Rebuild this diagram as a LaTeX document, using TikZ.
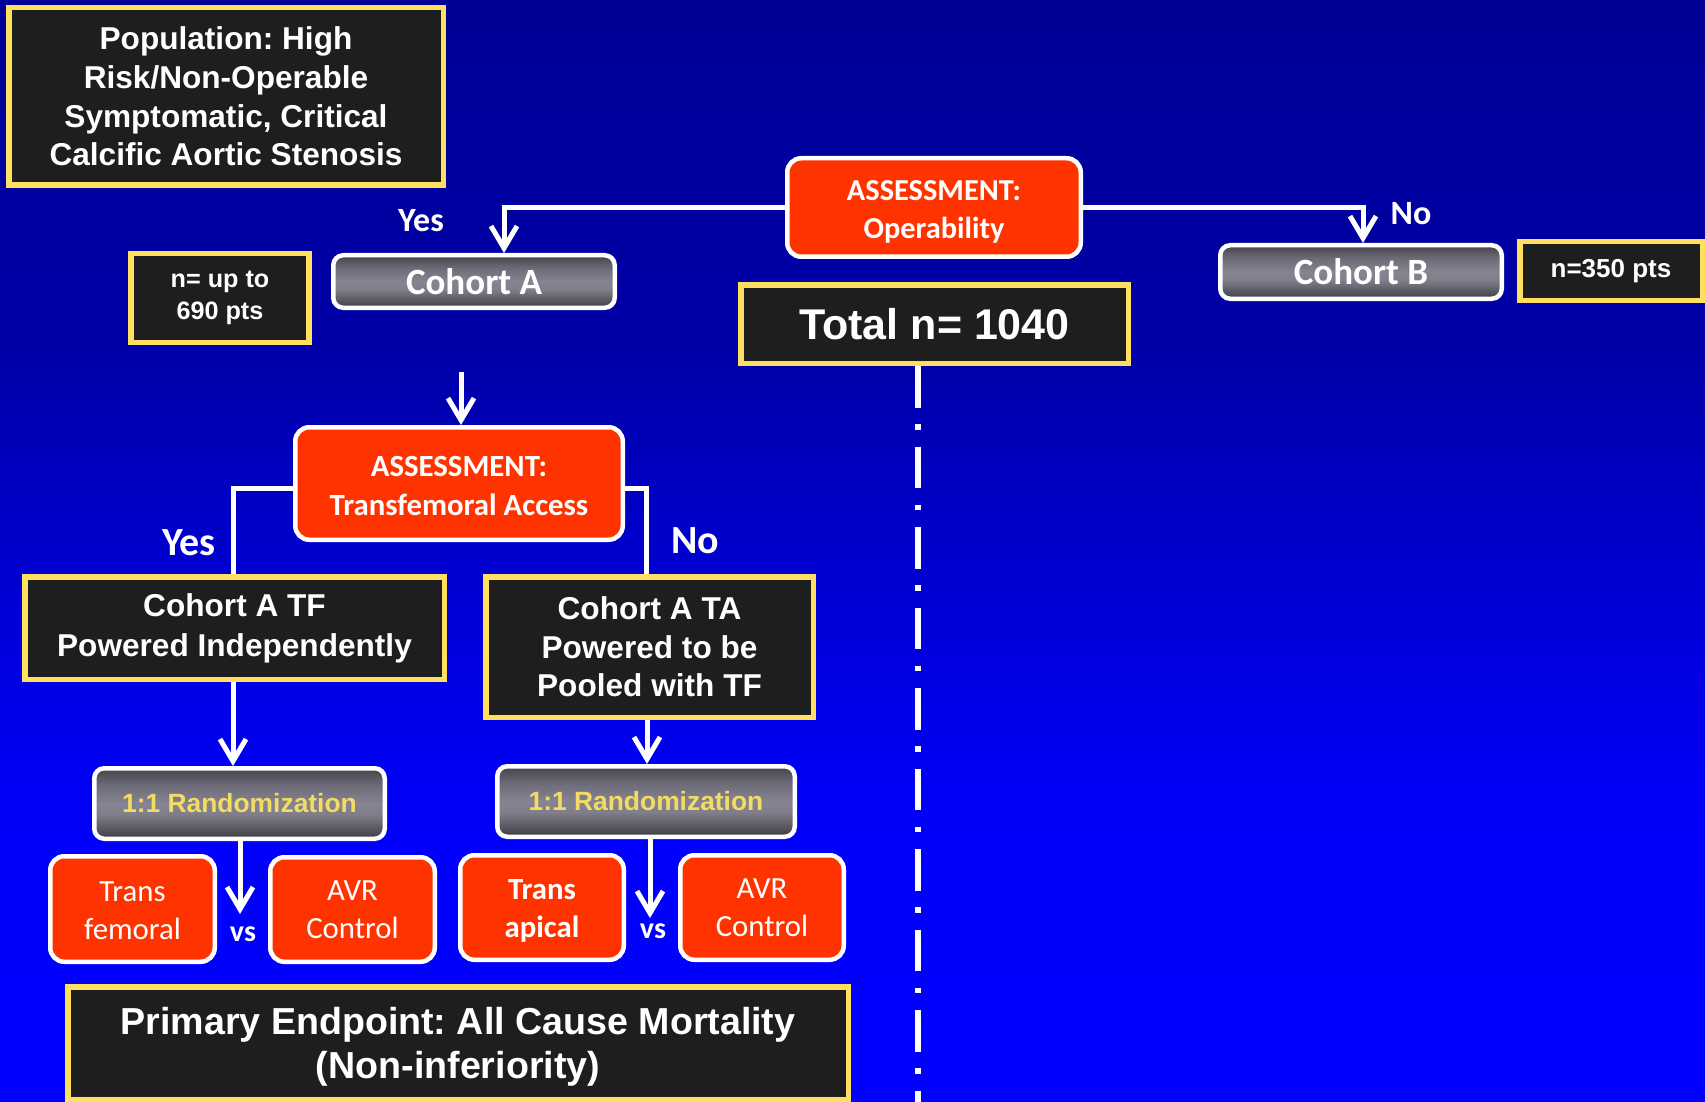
\documentclass[tikz,border=0pt]{standalone}
\usepackage{fontspec}
\setmainfont{Liberation Sans}
\newfontfamily\calibri{Carlito}
\usetikzlibrary{arrows.meta,calc}
\definecolor{bgzero}{RGB}{0,0,255}
\definecolor{bgone}{RGB}{0,0,252}
\definecolor{bgtwo}{RGB}{0,0,240}
\definecolor{bgthree}{RGB}{0,0,205}
\definecolor{bgfour}{RGB}{0,0,168}
\definecolor{bgfive}{RGB}{0,0,150}
\definecolor{gA}{HTML}{3A3A40}
\definecolor{gB}{HTML}{505058}
\definecolor{gC}{HTML}{807E8B}
\definecolor{gD}{HTML}{868491}
\definecolor{gE}{HTML}{6E6C78}
\definecolor{gF}{HTML}{44444C}
\definecolor{yel}{RGB}{255,223,95}
\definecolor{blk}{HTML}{1E1E1E}
\definecolor{redbox}{HTML}{FF3300}
\definecolor{randtxt}{RGB}{242,220,100}
\pgfdeclareverticalshading{bgshade}{100bp}{color(0bp)=(bgzero); color(25bp)=(bgzero); color(36.45bp)=(bgone); color(41bp)=(bgtwo); color(50bp)=(bgthree); color(59bp)=(bgfour); color(75bp)=(bgfive); color(100bp)=(bgfive)}
\pgfdeclareverticalshading{grayshade}{100bp}{color(0bp)=(gA); color(25bp)=(gA); color(30bp)=(gB); color(42.5bp)=(gC); color(50bp)=(gD); color(62.5bp)=(gE); color(75bp)=(gF); color(100bp)=(gF)}
\newcommand{\myfs}[2]{\fontsize{#1}{#2}\selectfont}
\frenchspacing
\begin{document}
\begin{tikzpicture}[x=0.5pt,y=-0.5pt,
  ybox/.style={draw=yel, fill=blk, line width=2.75pt, text=white, align=center, inner sep=0pt},
  rbox/.style={draw=white, fill=redbox, line width=2.25pt, rounded corners=7pt, text=white, align=center, inner sep=0pt},
  gbox/.style={draw=white, shading=grayshade, line width=2.25pt, rounded corners=5pt, text=white, align=center, inner sep=0pt},
  conn/.style={draw=white, line width=2.5pt},
  arr/.style={-{Straight Barb[length=11pt,width=13pt]}},
  lbl/.style={text=white, inner sep=0pt}
]
\useasboundingbox (0,0) rectangle (1705,1102);
\shade[shading=bgshade] (0,0) rectangle (1705,1102);

% yellow boxes
\node[ybox, minimum width=217.25pt, minimum height=88.75pt, font={\myfs{15.8}{19.3}\bfseries}] (pop) at (226,96.5) {Population: High\\Risk/Non-Operable\\Symptomatic, Critical\\Calcific Aortic Stenosis};
\node[ybox, minimum width=89pt, minimum height=44.25pt, font={\myfs{12.6}{16}\bfseries}] (nA) at (220,298) {n= up to\\690 pts};
\node[ybox, minimum width=193.75pt, minimum height=39.25pt, font={\myfs{21.5}{24}\bfseries}] (total) at (934.5,324) {Total n= 1040};
\node[ybox, minimum width=91.25pt, minimum height=29.25pt, font={\myfs{13}{16}\bfseries}] (nB) at (1611,271) {n=350 pts};
\node[ybox, minimum width=209.75pt, minimum height=51.25pt, font={\myfs{15.8}{20}\bfseries}] (TF) at (234.5,628) {Cohort A TF\\Powered Independently};
\node[ybox, minimum width=163.75pt, minimum height=70.25pt, font={\myfs{15.8}{19.3}\bfseries}] (TA) at (649.5,647) {Cohort A TA\\Powered to be\\Pooled with TF};
\node[ybox, minimum width=390.25pt, minimum height=56.25pt, font={\myfs{18.8}{22}\bfseries}] (prim) at (458,1043) {\rule{0pt}{17pt}Primary Endpoint: All Cause Mortality\\(Non-inferiority)};

% red rounded boxes
\node[rbox, minimum width=146.75pt, minimum height=49.25pt, font={\calibri\myfs{15.2}{19}\bfseries}] (op) at (934,207.5) {\rule{0pt}{14pt}ASSESSMENT:\\Operability};
\node[rbox, minimum width=163.75pt, minimum height=56.25pt, font={\calibri\myfs{15.4}{19.5}\bfseries}] (tfa) at (459,483.5) {\rule{0pt}{13pt}ASSESSMENT:\\Transfemoral Access};
\node[rbox, minimum width=82.25pt, minimum height=52.75pt, font={\calibri\myfs{15.4}{19}}] (trf) at (132.5,909) {\rule{0pt}{12pt}Trans\\femoral};
\node[rbox, minimum width=82.25pt, minimum height=52.25pt, font={\calibri\myfs{15.4}{19}}] (avrA) at (352.5,909.5) {AVR\\Control};
\node[rbox, minimum width=81.75pt, minimum height=52.25pt, font={\calibri\myfs{15.4}{19}\bfseries}] (tap) at (542,907.5) {\rule{0pt}{13pt}Trans\\apical};
\node[rbox, minimum width=81.75pt, minimum height=52.25pt, font={\calibri\myfs{15.4}{19}}] (avrB) at (762,907.5) {AVR\\Control};

% gray boxes
\node[gbox, minimum width=140.75pt, minimum height=26.25pt, font={\calibri\myfs{18.5}{20}\bfseries}] (cA) at (474,281.5) {Cohort A};
\node[gbox, minimum width=140.75pt, minimum height=26.75pt, font={\calibri\myfs{18.5}{20}\bfseries}] (cB) at (1361,272) {Cohort B};
\node[gbox, minimum width=145.25pt, minimum height=35.25pt, text=randtxt, font={\myfs{13.2}{16}\bfseries}] (rA) at (239.5,803.5) {1:1 Randomization};
\node[gbox, minimum width=148.75pt, minimum height=35.25pt, text=randtxt, font={\myfs{13.2}{16}\bfseries}] (rB) at (646,801.5) {1:1 Randomization};

% labels
\node[lbl, font={\calibri\myfs{17}{20}\bfseries}] (yesA) at (421,221) {Yes};
\node[lbl, font={\calibri\myfs{17}{20}\bfseries}] (noA) at (1411,214) {No};
\node[lbl, font={\calibri\myfs{20}{22}\bfseries}] (yesB) at (189,543) {Yes};
\node[lbl, font={\calibri\myfs{20}{22}\bfseries}] (noB) at (695,541) {No};
\node[lbl, font={\calibri\myfs{15}{18}\bfseries}] (vsA) at (243,934) {vs};
\node[lbl, font={\calibri\myfs{15}{18}\bfseries}] (vsB) at (653,931) {vs};

% free ends
\coordinate (tfaIn) at (461,372);
\coordinate (vA) at (240,914);
\coordinate (vB) at (650,918);
\coordinate (dashEnd) at (918,1102);

% connectors
\draw[conn,arr] (op.west) -| ([xshift=15pt]cA.north);
\draw[conn,arr] (op.east) -| ([xshift=1pt]cB.north);
\draw[conn,arr] (tfaIn) -- (tfaIn |- tfa.north);
\draw[conn] ([yshift=-2.25pt]tfa.west) -| ([xshift=-0.75pt]TF.north);
\draw[conn] ([yshift=-2.25pt]tfa.east) -| ([xshift=-1.75pt]TA.north);
\draw[conn,arr] ([xshift=-0.75pt]TF.south) -- ([xshift=-0.75pt]TF.south |- rA.north);
\draw[conn,arr] ([xshift=-1.25pt]TA.south) -- ([xshift=-1.25pt]TA.south |- rB.north);
\draw[conn,arr] (rA.south -| vA) -- (vA);
\draw[conn,arr] (rB.south -| vB) -- (vB);
\draw[draw=white, line width=2.85pt, dash pattern=on 20.8pt off 8.3pt on 2.85pt off 8.3pt] (total.south -| dashEnd) -- (dashEnd);
\end{tikzpicture}
\end{document}
